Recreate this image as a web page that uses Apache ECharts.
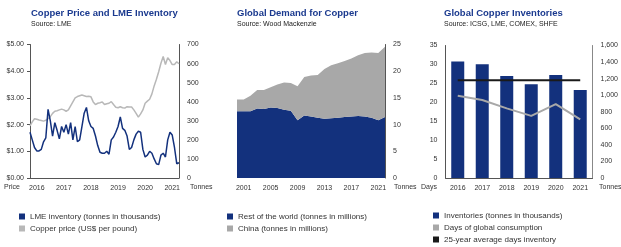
<!DOCTYPE html>
<html>
<head>
<meta charset="utf-8">
<script src="https://cdn.jsdelivr.net/npm/echarts@6/dist/echarts.min.js"></script>
<style>
  html, body { margin: 0; padding: 0; background: #fff; }
  #chart { width: 621px; height: 247px; }
</style>
</head>
<body>
<div id="chart"></div>
<script>
// 左图：铜价和LME库存（月度，2015-10 ~ 2021-04）
const months = [];
for (let y = 2015, m = 10; months.length < 67; m++) {
  if (m > 12) { m = 1; y++; }
  months.push(y + '-' + (m < 10 ? '0' + m : m));
}
const lmeInventory = [
  240, 200, 160, 142, 142, 150, 190, 210, 360, 300,
  220, 290, 250, 205, 270, 240, 280, 230, 290, 200,
  270, 190, 200, 270, 340, 370, 300, 270, 260, 220,
  170, 135, 130, 130, 140, 125, 200, 215, 240, 270,
  320, 260, 250, 220, 150, 160, 200, 230, 245, 240,
  150, 110, 120, 140, 130, 100, 75, 70, 120, 130,
  110, 200, 240, 225, 160, 75, 80
];
const copperPrice = [
  1.95, 2.10, 2.22, 2.20, 2.17, 2.15, 2.13, 2.16, 2.22, 2.30,
  2.42, 2.50, 2.52, 2.55, 2.58, 2.55, 2.50, 2.55, 2.70, 2.85,
  3.00, 3.05, 3.08, 3.11, 3.08, 3.05, 3.06, 3.04, 2.85, 2.75,
  2.80, 2.82, 2.85, 2.75, 2.78, 2.80, 2.86, 2.75, 2.65, 2.63,
  2.67, 2.63, 2.62, 2.67, 2.66, 2.66, 2.55, 2.42, 2.28, 2.40,
  2.55, 2.80, 2.88, 2.95, 3.15, 3.45, 3.70, 3.98, 4.30, 4.55,
  4.25, 4.50, 4.40, 4.25, 4.25, 4.35, 4.28
];

// 中图：全球铜需求
const demandYears = ['2000', '2001', '2002', '2003', '2004', '2005', '2006', '2007', '2008', '2009', '2010', '2011',
  '2012', '2013', '2014', '2015', '2016', '2017', '2018', '2019', '2020', '2021', '2022'];
const restOfWorld = [12.5, 12.5, 12.5, 13.0, 12.9, 13.2, 13.1, 12.8, 12.6, 10.8, 11.7, 11.5,
  11.3, 11.1, 11.2, 11.3, 11.4, 11.5, 11.6, 11.5, 11.3, 10.8, 11.4];
const china = [2.2, 2.2, 2.9, 3.5, 3.6, 3.8, 4.4, 5.1, 5.2, 6.4, 7.2, 7.7,
  8.0, 9.3, 9.9, 10.2, 10.5, 10.9, 11.4, 11.9, 12.2, 12.6, 13.2];

// 右图：全球铜库存
const invYears = ['2016', '2017', '2018', '2019', '2020', '2021'];
const inventories = [1406, 1374, 1233, 1132, 1245, 1063];
const daysConsumption = [21.7, 20.6, 18.4, 16.4, 19.5, 15.5];
const avgDays = [25.8, 25.8, 25.8, 25.8, 25.8, 25.8];

const NAVY = '#13317d';
const GREY = '#a8a8a8';
const AXIS = '#555';
const FONT = 'Liberation Sans, Arial, sans-serif';

const myChart = echarts.init(document.getElementById('chart'));

const labelStyle = { color: '#333', fontSize: 7, fontFamily: FONT };
const titleBase = {
  top: 8,
  padding: 0,
  itemGap: 3,
  textStyle: { color: '#1b3a8f', fontSize: 9.5, fontWeight: 'bold', fontFamily: FONT },
  subtextStyle: { color: '#222', fontSize: 7, fontFamily: FONT }
};
const legendBase = {
  orient: 'vertical',
  icon: 'rect',
  itemWidth: 6,
  itemHeight: 6,
  itemGap: 3,
  padding: 0,
  textStyle: { color: '#333', fontSize: 8, lineHeight: 9, fontFamily: FONT }
};
const valueAxis = (extra) => Object.assign({
  type: 'value',
  axisLine: { show: true, lineStyle: { color: AXIS, width: 1 } },
  axisTick: { show: false },
  splitLine: { show: false },
  axisLabel: Object.assign({ margin: 8 }, labelStyle)
}, extra);

const option = {
  animation: false,
  textStyle: { fontFamily: FONT },
  title: [
    Object.assign({ text: 'Copper Price and LME Inventory', subtext: 'Source: LME', left: 31 }, titleBase),
    Object.assign({ text: 'Global Demand for Copper', subtext: 'Source: Wood Mackenzie', left: 237 }, titleBase),
    Object.assign({ text: 'Global Copper Inventories', subtext: 'Source: ICSG, LME, COMEX, SHFE', left: 444 }, titleBase)
  ],
  legend: [
    Object.assign({ left: 19, top: 212, data: ['LME inventory (tonnes in thousands)', 'Copper price (US$ per pound)'] }, legendBase),
    Object.assign({ left: 227, top: 212, data: ['Rest of the world (tonnes in millions)', 'China (tonnes in millions)'] }, legendBase),
    Object.assign({ left: 433, top: 211, data: ['Inventories (tonnes in thousands)', 'Days of global consumption', '25-year average days inventory'] }, legendBase)
  ],
  grid: [
    { left: 30, width: 149, top: 44.5, height: 133.5 },
    { left: 237, width: 148, top: 44.5, height: 133.5 },
    { left: 445.5, width: 153.5, top: 45.5, height: 132.5 }
  ],
  xAxis: [
    {
      type: 'category', gridIndex: 0, data: months, boundaryGap: false,
      axisLine: { lineStyle: { color: AXIS } },
      axisTick: { show: false },
      axisLabel: Object.assign({
        margin: 7,
        interval: (idx, val) => val.slice(5) === '01',
        formatter: (v) => v.slice(0, 4)
      }, labelStyle)
    },
    {
      type: 'category', gridIndex: 1, data: demandYears, boundaryGap: false,
      axisLine: { show: false },
      axisTick: { show: false },
      axisLabel: Object.assign({ margin: 7, interval: (idx) => idx % 4 === 1 }, labelStyle)
    },
    {
      type: 'category', gridIndex: 2, data: invYears,
      axisLine: { lineStyle: { color: AXIS } },
      axisTick: { show: false },
      axisLabel: Object.assign({ margin: 7 }, labelStyle)
    }
  ],
  yAxis: [
    valueAxis({
      gridIndex: 0, min: 0, max: 5, interval: 1, position: 'left',
      axisTick: { show: true, length: 3, lineStyle: { color: AXIS } },
      axisLabel: Object.assign({ margin: 6, formatter: (v) => '$' + v.toFixed(2) }, labelStyle)
    }),
    valueAxis({ gridIndex: 0, min: 0, max: 700, interval: 100, position: 'right' }),
    valueAxis({ gridIndex: 1, min: 0, max: 25, interval: 5, position: 'right' }),
    valueAxis({ gridIndex: 2, min: 0, max: 35, interval: 5, position: 'left' }),
    valueAxis({
      gridIndex: 2, min: 0, max: 1600, interval: 200, position: 'right',
      axisLine: { show: true, lineStyle: { color: '#888', width: 1 } },
      axisLabel: Object.assign({ margin: 8, formatter: (v) => v.toLocaleString('en-US') }, labelStyle)
    })
  ],
  series: [
    {
      name: 'Copper price (US$ per pound)', type: 'line', xAxisIndex: 0, yAxisIndex: 0,
      data: copperPrice, symbol: 'none', color: '#b8b8b8',
      lineStyle: { width: 1.5, color: '#b8b8b8' }
    },
    {
      name: 'LME inventory (tonnes in thousands)', type: 'line', xAxisIndex: 0, yAxisIndex: 1,
      data: lmeInventory, symbol: 'none', color: NAVY,
      lineStyle: { width: 1.5, color: NAVY }
    },
    {
      name: 'Rest of the world (tonnes in millions)', type: 'line', xAxisIndex: 1, yAxisIndex: 2,
      stack: 'demand', data: restOfWorld, symbol: 'none', color: NAVY,
      lineStyle: { width: 0 }, areaStyle: { color: NAVY, opacity: 1 }
    },
    {
      name: 'China (tonnes in millions)', type: 'line', xAxisIndex: 1, yAxisIndex: 2,
      stack: 'demand', data: china, symbol: 'none', color: GREY,
      lineStyle: { width: 0 }, areaStyle: { color: GREY, opacity: 1 }
    },
    {
      name: 'Inventories (tonnes in thousands)', type: 'bar', xAxisIndex: 2, yAxisIndex: 4,
      data: inventories, barWidth: 13, color: NAVY
    },
    {
      name: 'Days of global consumption', type: 'line', xAxisIndex: 2, yAxisIndex: 3,
      data: daysConsumption, symbol: 'none', color: GREY,
      lineStyle: { width: 2, color: GREY }
    },
    {
      name: '25-year average days inventory', type: 'line', xAxisIndex: 2, yAxisIndex: 3,
      data: avgDays, symbol: 'none', color: '#1a1a1a',
      lineStyle: { width: 2, color: '#1a1a1a' }
    }
  ],
  graphic: [
    { type: 'text', left: 4, top: 184, style: { text: 'Price', fontSize: 7, fill: '#333', fontFamily: FONT } },
    { type: 'text', left: 190, top: 184, style: { text: 'Tonnes', fontSize: 7, fill: '#333', fontFamily: FONT } },
    { type: 'text', left: 394, top: 184, style: { text: 'Tonnes', fontSize: 7, fill: '#333', fontFamily: FONT } },
    { type: 'text', left: 421, top: 184, style: { text: 'Days', fontSize: 7, fill: '#333', fontFamily: FONT } },
    { type: 'text', left: 599, top: 184, style: { text: 'Tonnes', fontSize: 7, fill: '#333', fontFamily: FONT } }
  ]
};

myChart.setOption(option);
window.addEventListener('resize', function () {
  myChart.resize();
});
</script>
</body>
</html>
